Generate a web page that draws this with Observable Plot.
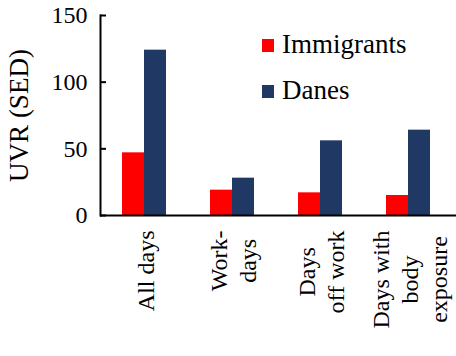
<!DOCTYPE html>
<html>
<head>
<meta charset="utf-8">
<script src="https://cdn.jsdelivr.net/npm/d3@7"></script>
<script src="https://cdn.jsdelivr.net/npm/@observablehq/plot@0.6"></script>
<style>
  body { margin: 0; }
  .box { position: relative; width: 456px; height: 356px; font-family: 'Liberation Serif', serif; }
  .sw { position: absolute; width: 12px; height: 13px; }
  .tx { position: absolute; font-family: 'Liberation Serif', serif; font-size: 27px; line-height: 27px; white-space: nowrap; }
</style>
</head>
<body>
<div class="box" id="box">
  <div class="sw" id="sw0" style="left:262px; top:39px;"></div>
  <div class="tx" id="tx0" style="left:282px; top:31px;"></div>
  <div class="sw" id="sw1" style="left:262px; top:85px;"></div>
  <div class="tx" id="tx1" style="left:282px; top:77px;"></div>
</div>
<script>
const categories = ["All days", "Work-days", "Days off work", "Days with body exposure"];
const tickLabels = ["All days", "Work-\ndays", "Days\noff work", "Days with\nbody\nexposure"];
const immigrants = [47, 19, 17, 15];
const danes = [124, 28, 56, 64];
const seriesNames = ["Immigrants", "Danes"];
const seriesColors = ["#ff0000", "#1f3864"];
const yTicks = [0, 50, 100, 150];
const yLabel = "UVR (SED)";

const immRows = categories.map((c, i) => ({category: c, value: immigrants[i]}));
const danRows = categories.map((c, i) => ({category: c, value: danes[i]}));

const chart = Plot.plot({
  width: 456,
  height: 356,
  marginLeft: 100,
  marginRight: 0,
  marginTop: 15,
  marginBottom: 141,
  style: {fontFamily: "Liberation Serif", fontSize: "24px", color: "#000"},
  x: {domain: categories, range: [100, 452], paddingInner: 0.5, paddingOuter: 0.25},
  y: {domain: [0, 150]},
  marks: [
    Plot.barY(immRows, {x: "category", y: "value", fill: seriesColors[0], insetRight: 22}),
    Plot.barY(danRows, {x: "category", y: "value", fill: seriesColors[1], insetLeft: 22}),
    Plot.axisY({ticks: yTicks, tickSize: -6, tickPadding: 19, strokeWidth: 2, label: yLabel, labelAnchor: "center", labelOffset: 92, labelArrow: "none"}),
    Plot.axisX({tickSize: 0, tickPadding: 15, tickRotate: -90, tickFormat: d => tickLabels[categories.indexOf(d)], textAnchor: "end", lineAnchor: "middle", lineHeight: 1.2, label: null}),
    Plot.frame({anchor: "left", strokeWidth: 2}),
    Plot.ruleY([0], {strokeWidth: 2})
  ]
});
chart.style.position = "absolute";
chart.style.left = "0px";
chart.style.top = "0px";
const box = document.getElementById("box");
box.insertBefore(chart, box.firstChild);

chart.querySelectorAll('g[aria-label="y-axis label"] text').forEach(t => t.setAttribute("font-size", "27px"));
chart.querySelectorAll('g[aria-label="x-axis tick label"] text').forEach(t => {
  const spans = t.querySelectorAll("tspan");
  if (spans.length < 2) return;
  let L = 0;
  spans.forEach(s => { L = Math.max(L, s.getComputedTextLength()); });
  t.setAttribute("text-anchor", "middle");
  spans.forEach(s => s.setAttribute("x", -L / 2));
});

seriesNames.forEach((n, i) => {
  document.getElementById("sw" + i).style.background = seriesColors[i];
  document.getElementById("tx" + i).textContent = n;
});
</script>
</body>
</html>
